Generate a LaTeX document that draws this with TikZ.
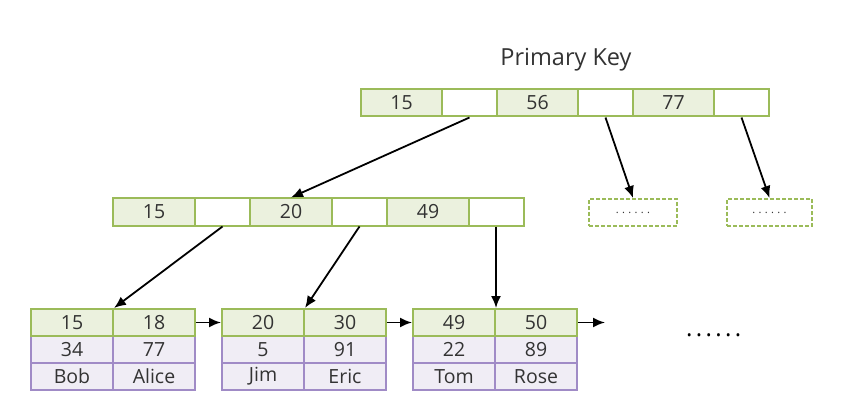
\documentclass[tikz,border=0pt]{standalone}
\usepackage{fontspec}
\setmainfont{Open Sans}
\usetikzlibrary{arrows.meta}
\definecolor{gfill}{HTML}{EBF1DE}
\definecolor{gborder}{HTML}{9BBB59}
\definecolor{pfill}{HTML}{F0EDF5}
\definecolor{pborder}{HTML}{A08BC6}
\definecolor{txt}{HTML}{333333}
\begin{document}
\begin{tikzpicture}[x=1pt,y=-1pt,
  cell/.style={rectangle, line width=2pt, minimum height=27pt, inner sep=0pt, text=txt, font=\fontsize{19.5}{22}\selectfont},
  gcell/.style={cell, draw=gborder, fill=gfill, minimum width=81pt},
  wcell/.style={cell, draw=gborder, fill=white, minimum width=55pt},
  lcell/.style={cell, draw=gborder, fill=gfill, minimum width=82pt},
  pcell/.style={cell, draw=pborder, fill=pfill, minimum width=82pt},
  dbox/.style={rectangle, draw=gborder, dashed, dash pattern=on 4pt off 2pt, line width=2pt, minimum height=27pt, inner sep=0pt, font=\fontsize{11}{12}\selectfont\addfontfeatures{LetterSpace=30}, text=txt},
  link/.style={line width=1.8pt, -{Latex[length=12pt,width=10pt]}}
]
\useasboundingbox (0,0) rectangle (868,417);

\node[font=\fontsize{23.5}{28}\selectfont, text=txt] (title) at (566,60) {Primary Key};

% top node
\node[gcell] (t1) at (401.5,103) {15};
\node[wcell] (t2) at (469.5,103) {};
\node[gcell] (t3) at (537.5,103) {56};
\node[wcell] (t4) at (605.5,103) {};
\node[gcell] (t5) at (673.5,103) {77};
\node[wcell] (t6) at (741.5,103) {};

% middle node
\node[gcell, minimum width=82pt] (m1) at (154,212) {15};
\node[wcell] (m2) at (222.5,212) {};
\node[gcell, minimum width=82pt] (m3) at (291,212) {20};
\node[wcell] (m4) at (359.5,212) {};
\node[gcell, minimum width=82pt] (m5) at (428,212) {49};
\node[wcell] (m6) at (496.5,212) {};

% dashed placeholders
\node[dbox, minimum width=88pt] (d1) at (633,212.5) {......};
\node[dbox, minimum width=85pt] (d2) at (769.5,212.5) {......};

% leaf 1
\node[pcell] (L1c) at (72,349.5) {34};
\node[pcell] (L1d) at (154,349.5) {77};
\node[pcell] (L1e) at (72,376.5) {Bob};
\node[pcell] (L1f) at (154,376.5) {Alice};
\node[lcell] (L1a) at (72,322.5) {15};
\node[lcell] (L1b) at (154,322.5) {18};

% leaf 2
\node[pcell] (L2c) at (263,349.5) {5};
\node[pcell] (L2d) at (345,349.5) {91};
\node[pcell] (L2e) at (263,376.5) {Jim};
\node[pcell] (L2f) at (345,376.5) {Eric};
\node[lcell] (L2a) at (263,322.5) {20};
\node[lcell] (L2b) at (345,322.5) {30};

% leaf 3
\node[pcell] (L3c) at (454,349.5) {22};
\node[pcell] (L3d) at (536,349.5) {89};
\node[pcell] (L3e) at (454,376.5) {Tom};
\node[pcell] (L3f) at (536,376.5) {Rose};
\node[lcell] (L3a) at (454,322.5) {49};
\node[lcell] (L3b) at (536,322.5) {50};

\node[font=\fontsize{24}{26}\selectfont\addfontfeatures{LetterSpace=14}, text=black, anchor=base west, inner sep=0pt] (dots) at (686,336) {......};
\coordinate (nextend) at (605,322.5);

% connectors
\draw[link] (t2.south) -- (m3.north);
\draw[link] (t4.south) -- (d1.north);
\draw[link] (t6.south) -- (d2.north);
\draw[link] (m2.south) -- (L1a.north east);
\draw[link] (m4.south) -- (L2a.north east);
\draw[link] (m6.south -| L3a.north east) -- (L3a.north east);
\draw[link] (L1b.east) -- (L2a.west);
\draw[link] (L2b.east) -- (L3a.west);
\draw[link] (L3b.east) -- (nextend);
\end{tikzpicture}
\end{document}
